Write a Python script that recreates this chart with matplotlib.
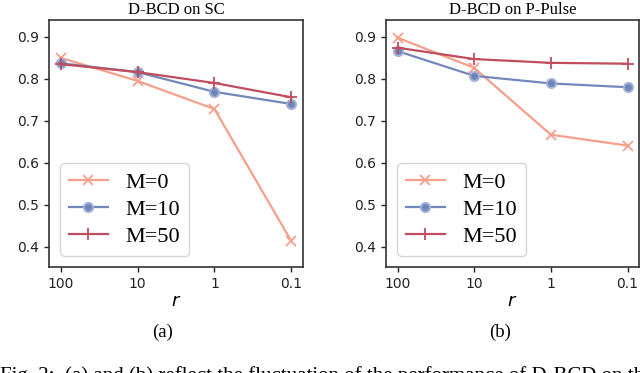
import matplotlib
matplotlib.use("Agg")
import matplotlib.pyplot as plt

r_labels = ["100", "10", "1", "0.1"]

sc_m0 = [0.850, 0.795, 0.728, 0.413]
sc_m10 = [0.837, 0.816, 0.769, 0.740]
sc_m50 = [0.835, 0.816, 0.790, 0.756]

pp_m0 = [0.898, 0.826, 0.667, 0.641]
pp_m10 = [0.866, 0.807, 0.789, 0.780]
pp_m50 = [0.874, 0.847, 0.838, 0.836]

panels = [
    ("D-BCD on SC", "(a)", sc_m0, sc_m10, sc_m50),
    ("D-BCD on P-Pulse", "(b)", pp_m0, pp_m10, pp_m50),
]

c0 = "#f6a08b"
c10 = "#6a82b8"
c50 = "#c14c5e"

W, H = 640, 373
fig = plt.figure(figsize=(W / 100, H / 100), dpi=100)

boxes = [(49, 20, 254, 247), (386, 20, 253, 247)]
cap_x = [163, 500]
serif = ["Liberation Serif", "DejaVu Serif"]

x = list(range(len(r_labels)))
for (title, cap, m0, m10, m50), (l, t, w, h), cx in zip(panels, boxes, cap_x):
    ax = fig.add_axes([l / W, 1 - (t + h) / H, w / W, h / H])
    ax.plot(x, m0, color=c0, marker="x", ms=7, lw=1.6, mew=1.3, label="M=0")
    ax.plot(x, m10, color=c10, marker="o", ms=6.5, lw=1.6, mfc=c10,
            mec="#9fb0d6", mew=1.5, alpha=0.95, label="M=10")
    ax.plot(x, m50, color=c50, marker="+", ms=9, lw=1.6, mew=1.3, label="M=50")
    ax.set_ylim(0.352, 0.94)
    ax.set_yticks([0.4, 0.5, 0.6, 0.7, 0.8, 0.9])
    ax.set_xticks(x)
    ax.set_xticklabels(r_labels)
    ax.tick_params(labelsize=10, colors="#222222", width=1.0, length=3.5)
    for s in ax.spines.values():
        s.set_color("#333333")
        s.set_linewidth(1.2)
    ax.set_xlabel("$r$", fontsize=13, labelpad=1)
    ax.set_title(title, fontsize=12, family=serif, pad=4)
    ax.legend(loc="lower left", prop={"family": serif, "size": 16},
              handlelength=1.75, borderpad=0.4, labelspacing=0.3,
              handletextpad=0.8, framealpha=0.8)
    fig.text(cx / W, 1 - 332 / H, cap, ha="center", va="center",
             fontsize=13.5, family=serif)

# figure caption, cut off by the bottom edge as in the source page
caption = "Fig. 2:  (a) and (b) reflect the fluctuation of the performance of D-BCD on the"
fig.text(0.0, 1 - 366 / H, caption,
         ha="left", va="top", fontsize=15, family=serif)

fig.savefig("out.png", dpi=100)
